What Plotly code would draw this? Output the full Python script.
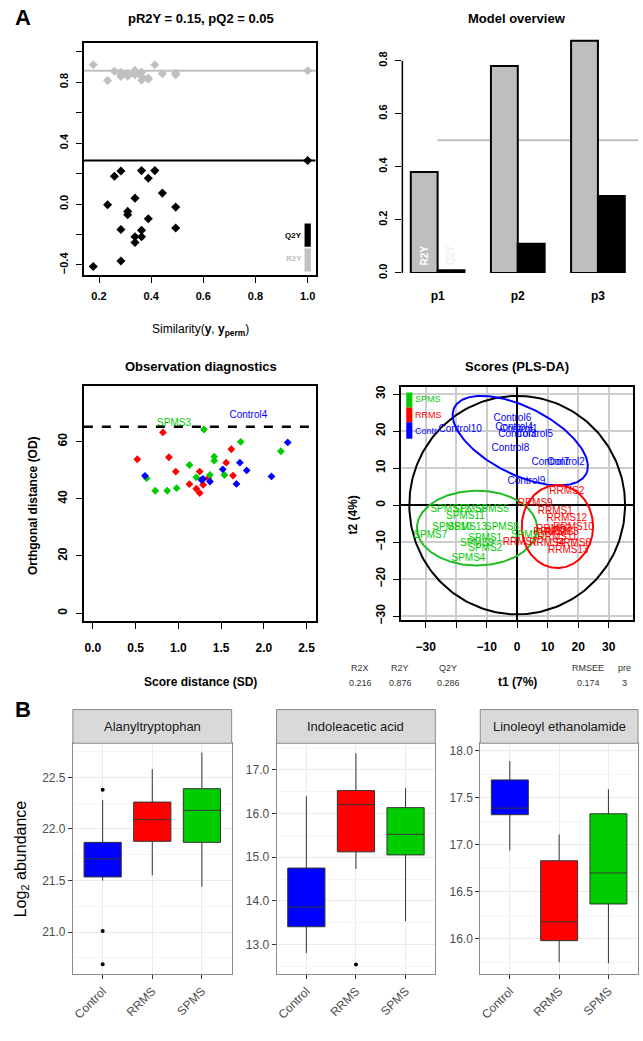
import numpy as np
import plotly.graph_objects as go

W, H = 643, 1041
def fx(p): return p / W
def fy(p): return 1 - p / H

# ---------------- DATA ----------------
# Panel A1: permutation test
perm_similarity = [0.178, 0.233, 0.259, 0.284, 0.284, 0.284, 0.310, 0.310, 0.338, 0.338, 0.338,
                   0.363, 0.363, 0.363, 0.389, 0.389, 0.414, 0.443, 0.494, 0.494, 1.0]
perm_r2y = [0.915, 0.811, 0.872, 0.865, 0.839, 0.850, 0.857, 0.840, 0.861, 0.878, 0.850,
            0.865, 0.813, 0.840, 0.828, 0.820, 0.915, 0.857, 0.861, 0.850, 0.876]
perm_q2y = [-0.410, -0.004, 0.183, 0.217, -0.167, -0.374, -0.048, -0.070, 0.039, -0.215, -0.252,
            0.220, -0.172, -0.215, 0.170, -0.096, 0.220, 0.072, -0.020, -0.157, 0.286]
model_r2y = 0.876
model_q2y = 0.286

# Panel A2: model overview
components = ["p1", "p2", "p3"]
overview_r2y = [0.38, 0.78, 0.875]
overview_q2y = [0.01, 0.11, 0.29]

# Panel A3: observation diagnostics
rrms_sd = [0.52, 0.82, 0.89, 0.97, 1.13, 1.21, 1.25, 1.25, 1.29, 1.35, 1.56, 1.62, 1.64]
rrms_od = [53.8, 63.2, 54.5, 49.5, 45.1, 43.5, 49.5, 42.0, 44.9, 47.2, 52.6, 57.3, 48.1]
spms_sd = [0.63, 0.73, 0.87, 0.98, 1.13, 1.21, 1.30, 1.37, 1.42, 1.42, 1.54, 1.73, 2.20]
spms_od = [47.2, 42.8, 42.8, 43.7, 51.8, 47.5, 64.2, 48.3, 54.7, 53.3, 48.3, 59.9, 56.6]
ctrl_sd = [0.61, 1.27, 1.29, 1.37, 1.52, 1.68, 1.72, 1.80, 2.09, 2.28]
ctrl_od = [48.0, 46.6, 46.9, 46.0, 50.3, 45.2, 52.6, 49.9, 47.8, 59.7]
od_threshold = 65.2
diag_labels = ["SPMS3", "Control4"]
diag_label_sd = [0.95, 1.82]
diag_label_od = [66.2, 69.1]

# Panel A4: PLS-DA scores
ctrl_names = ["Control%d" % i for i in range(1, 11)]
ctrl_t1 = [0.5, 16.0, 0.0, -1.0, 5.6, -1.6, 10.9, -2.2, 3.0, -18.7]
ctrl_t2 = [20.4, 11.4, 19.0, 21.0, 19.0, 23.5, 11.4, 15.4, 6.4, 20.3]
spms_names = ["SPMS%d" % i for i in range(1, 14)]
spms_t1 = [-10.5, -10.5, 3.5, -16.0, -8.3, -15.4, -28.5, -5.0, -13.2, -21.4, -17.0, -22.0, -16.4]
spms_t2 = [-8.9, -11.8, -8.2, -14.3, -1.3, -1.1, -8.2, -6.1, -10.3, -6.1, -3.2, -1.1, -6.1]
rrms_names = ["RRMS%d" % i for i in range(1, 14)]
rrms_t1 = [12.5, 16.3, 12.0, 9.7, 14.5, 18.5, 1.0, 11.0, 5.9, 18.5, 13.2, 16.3, 16.8]
rrms_t2 = [-1.8, 3.6, -6.5, -10.3, -7.5, -10.3, -10.1, -7.5, 0.3, -6.1, -8.7, -3.6, -12.2]
# ellipses: center, semi-axis vector a, semi-axis vector b (data units)
ell_t2 = [(0.0, 0.0), (35.4, 0.0), (0.0, 29.5)]
ell_ctrl = [(1.0, 17.4), (21.6, -9.0), (-5.05, -8.1)]
ell_spms = [(-13.2, -6.2), (19.7, 0.0), (0.0, 10.1)]
ell_rrms = [(13.2, -5.8), (11.7, 0.0), (0.0, 11.2)]
stat_names = ["R2X", "R2Y", "Q2Y", "RMSEE", "pre"]
stat_values = ["0.216", "0.876", "0.286", "0.174", "3"]

# Panel B: boxplots
groups = ["Control", "RRMS", "SPMS"]
metabolites = ["Alanyltryptophan", "Indoleacetic acid", "Linoleoyl ethanolamide"]
box_q1 = [[21.535, 21.88, 21.87], [13.41, 15.12, 15.05], [17.32, 15.98, 16.37]]
box_med = [[21.71, 22.09, 22.18], [13.86, 16.20, 15.52], [17.39, 16.18, 16.70]]
box_q3 = [[21.87, 22.26, 22.39], [14.75, 16.52, 16.13], [17.69, 16.83, 17.33]]
box_lo = [[21.50, 21.55, 21.44], [12.81, 14.73, 13.54], [16.94, 15.75, 15.74]]
box_hi = [[22.28, 22.58, 22.74], [16.39, 17.37, 16.58], [17.89, 17.11, 17.59]]
out_group = [["Control", "Control", "Control"], ["RRMS"], []]
out_value = [[22.38, 21.01, 20.69], [12.55], []]

group_colors = {"Control": "#0000FF", "RRMS": "#FF0000", "SPMS": "#00CD00"}
RED, GREEN, BLUE = "#FF0000", "#00CC00", "#0000FF"

# ---------------- FIGURE ----------------
fig = go.Figure()
FONT = "Liberation Sans"

# A1 permutation
fig.add_trace(go.Scatter(x=perm_similarity, y=perm_r2y, mode="markers",
                         marker=dict(symbol="diamond", size=7, color="#C0C0C0"),
                         xaxis="x", yaxis="y", showlegend=False))
fig.add_trace(go.Scatter(x=perm_similarity, y=perm_q2y, mode="markers",
                         marker=dict(symbol="diamond", size=7, color="black"),
                         xaxis="x", yaxis="y", showlegend=False))

# A2 overview
fig.add_trace(go.Bar(x=components, y=overview_r2y, marker=dict(color="#BEBEBE", line=dict(color="black", width=2)),
                     xaxis="x2", yaxis="y2", showlegend=False))
fig.add_trace(go.Bar(x=components, y=overview_q2y, marker=dict(color="black", line=dict(color="black", width=2)),
                     xaxis="x2", yaxis="y2", showlegend=False))

# A3 diagnostics
for sd, od, col in [(rrms_sd, rrms_od, RED), (spms_sd, spms_od, GREEN), (ctrl_sd, ctrl_od, BLUE)]:
    fig.add_trace(go.Scatter(x=sd, y=od, mode="markers", marker=dict(symbol="diamond", size=6, color=col),
                             xaxis="x3", yaxis="y3", showlegend=False))
fig.add_trace(go.Scatter(x=diag_label_sd, y=diag_label_od, mode="text", text=diag_labels,
                         textfont=dict(family=FONT, size=10, color=[GREEN, BLUE]),
                         xaxis="x3", yaxis="y3", showlegend=False))

# A4 scores
t = np.linspace(0, 2 * np.pi, 241)
for (c, a, b), col in [(ell_t2, "black"), (ell_ctrl, BLUE), (ell_spms, "#22BB22"), (ell_rrms, RED)]:
    ex = c[0] + a[0] * np.cos(t) + b[0] * np.sin(t)
    ey = c[1] + a[1] * np.cos(t) + b[1] * np.sin(t)
    fig.add_trace(go.Scatter(x=ex, y=ey, mode="lines", line=dict(color=col, width=2),
                             xaxis="x4", yaxis="y4", showlegend=False, hoverinfo="skip"))
for names, xs, ys, col in [(ctrl_names, ctrl_t1, ctrl_t2, BLUE), (spms_names, spms_t1, spms_t2, GREEN),
                           (rrms_names, rrms_t1, rrms_t2, RED)]:
    fig.add_trace(go.Scatter(x=xs, y=ys, mode="text", text=names,
                             textfont=dict(family=FONT, size=10, color=col),
                             xaxis="x4", yaxis="y4", showlegend=False))

# B boxplots
for k in range(3):
    ax = str(5 + k)
    for j, g in enumerate(groups):
        fig.add_trace(go.Box(x=[g], q1=[box_q1[k][j]], median=[box_med[k][j]], q3=[box_q3[k][j]],
                             lowerfence=[box_lo[k][j]], upperfence=[box_hi[k][j]],
                             fillcolor=group_colors[g], line=dict(color="#333333", width=1),
                             width=0.75, whiskerwidth=0, boxpoints=False,
                             xaxis="x" + ax, yaxis="y" + ax, showlegend=False))
    if out_group[k]:
        fig.add_trace(go.Scatter(x=out_group[k], y=out_value[k], mode="markers",
                                 marker=dict(color="black", size=4),
                                 xaxis="x" + ax, yaxis="y" + ax, showlegend=False))

# ---------------- AXES ----------------
rfont = dict(family=FONT, size=11, color="black", weight="bold")
def raxis(**kw):
    d = dict(ticks="outside", ticklen=6, tickcolor="black", tickwidth=1, showgrid=False, zeroline=False,
             tickfont=rfont, showline=True, mirror=True, linecolor="black", linewidth=1.8,
             ticklabelstandoff=4)
    d.update(kw)
    return d

def m(v):
    return ("%s" % v).replace("-", "\u2212")

lay = dict(
    width=W, height=H, margin=dict(l=0, r=0, t=0, b=0), autosize=False,
    paper_bgcolor="white", plot_bgcolor="white", barmode="group", bargap=0.33, bargroupgap=0,
    boxmode="overlay",
    xaxis=raxis(domain=[fx(83), fx(315)], range=[0.142, 1.03], tickvals=[0.2, 0.4, 0.6, 0.8, 1.0],
                ticktext=["0.2", "0.4", "0.6", "0.8", "1.0"], anchor="y"),
    yaxis=raxis(domain=[fy(275), fy(41)], range=[-0.465, 1.06], tickangle=-90,
                tickvals=[-0.4, 0.0, 0.4, 0.8],
                ticktext=[m("-0.4"), "0.0", "0.4", "0.8"], anchor="x",
                minor=dict(tickvals=[-0.2, 0.2, 0.6, 1.0], ticks="outside", ticklen=6, tickcolor="black",
                           showgrid=False)),
    xaxis2=dict(domain=[fx(402), fx(638)], range=[-0.44, 2.5], type="category", showline=False, ticks="",
                showgrid=False, zeroline=False, tickfont=dict(family=FONT, size=12, color="black", weight="bold"),
                ticklabelstandoff=14, anchor="y2"),
    yaxis2=dict(domain=[fy(273), fy(27)], range=[0, 0.92], tickvals=[0, 0.2, 0.4, 0.6, 0.8],
                ticktext=["0.0", "0.2", "0.4", "0.6", "0.8"], tickangle=-90, ticks="outside", ticklen=6,
                tickcolor="black", showline=False, showgrid=False, zeroline=False, tickfont=rfont,
                ticklabelstandoff=4, anchor="x2"),
    xaxis3=raxis(domain=[fx(83), fx(315)], range=[-0.105, 2.605], tickvals=[0, 0.5, 1.0, 1.5, 2.0, 2.5],
                 ticktext=["0.0", "0.5", "1.0", "1.5", "2.0", "2.5"], anchor="y3", ticklabelstandoff=8,
                 tickfont=dict(family=FONT, size=12, color="black", weight="bold")),
    yaxis3=raxis(domain=[fy(624), fy(387)], range=[-2.8, 79.4], tickvals=[0, 20, 40, 60], tickangle=-90,
                 anchor="x3", tickfont=dict(family=FONT, size=12, color="black", weight="bold")),
    xaxis4=raxis(domain=[fx(401), fx(633)], range=[-38, 38], tickvals=[-30, -10, 0, 10, 20, 30],
                 ticktext=[m("-30"), m("-10"), "0", "10", "20", "30"], anchor="y4",
                 minor=dict(tickvals=[-20], ticks="outside", ticklen=6, tickcolor="black",
                            showgrid=True, gridcolor="#CCCCCC", gridwidth=2),
                 showgrid=True, gridcolor="#CCCCCC", gridwidth=2, zeroline=True, zerolinecolor="black",
                 zerolinewidth=2, ticklabelstandoff=8, tickfont=dict(family=FONT, size=12, color="black", weight="bold")),
    yaxis4=raxis(domain=[fy(623), fy(388)], range=[-31.1, 31.9], tickvals=[-30, -20, -10, 0, 10, 20, 30],
                 ticktext=[m("-30"), m("-20"), m("-10"), "0", "10", "20", "30"], tickangle=-90, anchor="x4",
                 showgrid=True, gridcolor="#CCCCCC", gridwidth=2, zeroline=True, zerolinecolor="black",
                 zerolinewidth=2, tickfont=dict(family=FONT, size=12, color="black", weight="bold")),
)

bdom_x = [(72, 231), (276, 435), (480, 638)]
bdom_range = [(20.59, 22.83), (12.32, 17.6), (15.62, 18.08)]
bdom_ticks = [[21.0, 21.5, 22.0, 22.5], [13.0, 14.0, 15.0, 16.0, 17.0], [16.0, 16.5, 17.0, 17.5, 18.0]]
bdom_minor = [0.25, 0.5, 0.25]
for k in range(3):
    ax = str(5 + k)
    lay["xaxis" + ax] = dict(domain=[fx(bdom_x[k][0]), fx(bdom_x[k][1])], type="category",
                             categoryorder="array", categoryarray=groups, range=[-0.6, 2.6],
                             showgrid=True, gridcolor="#EBEBEB", ticks="outside", ticklen=4, tickcolor="#333333",
                             tickangle=-45, tickfont=dict(family=FONT, size=12, color="#4D4D4D"),
                             showline=True, mirror=True, linecolor="#8C8C8C", linewidth=1, zeroline=False,
                             anchor="y" + ax)
    lay["yaxis" + ax] = dict(domain=[fy(980), fy(747)], range=list(bdom_range[k]), tickvals=bdom_ticks[k],
                             tickformat=".1f", showgrid=True, gridcolor="#EBEBEB", ticks="outside", ticklen=4,
                             tickcolor="#333333", tickfont=dict(family=FONT, size=12, color="#4D4D4D"),
                             minor=dict(dtick=bdom_minor[k], showgrid=True, gridcolor="#F5F5F5", ticks=""),
                             showline=True, mirror=True, linecolor="#8C8C8C", linewidth=1, zeroline=False,
                             anchor="x" + ax)

fig.update_layout(**lay)

# ---------------- SHAPES ----------------
shapes = []
# A1 reference lines
shapes.append(dict(type="line", xref="x domain", x0=0, x1=1.01, yref="y", y0=model_r2y, y1=model_r2y,
                   line=dict(color="#C0C0C0", width=2), layer="below"))
shapes.append(dict(type="line", xref="x domain", x0=0, x1=1.0, yref="y", y0=model_q2y, y1=model_q2y,
                   line=dict(color="black", width=2)))
# A1 legend bars
shapes.append(dict(type="rect", xref="x", yref="y", x0=0.988, x1=1.012, y0=-0.28, y1=-0.128,
                   fillcolor="black", line=dict(width=0)))
shapes.append(dict(type="rect", xref="x", yref="y", x0=0.988, x1=1.012, y0=-0.443, y1=-0.291,
                   fillcolor="#C0C0C0", line=dict(width=0)))
# A2 axis line and threshold
shapes.append(dict(type="line", xref="x2 domain", x0=0, x1=0, yref="y2", y0=0, y1=0.8,
                   line=dict(color="black", width=1.5)))
shapes.append(dict(type="line", xref="x2 domain", x0=0.148, x1=1.0, yref="y2", y0=0.5, y1=0.5,
                   line=dict(color="#C0C0C0", width=2), layer="below"))
# A3 threshold
shapes.append(dict(type="line", xref="x3 domain", x0=0, x1=1, yref="y3", y0=od_threshold, y1=od_threshold,
                   line=dict(color="black", width=2.5, dash="dash")))
# A4 legend blocks
for (y0, y1, col) in [(26.4, 30.4, GREEN), (22.4, 26.4, RED), (17.9, 22.4, BLUE)]:
    shapes.append(dict(type="rect", xref="x4", yref="y4", x0=-36.4, x1=-34.4, y0=y0, y1=y1,
                       fillcolor=col, line=dict(width=0)))
# B strips
for (a, b) in bdom_x:
    shapes.append(dict(type="rect", xref="paper", yref="paper", x0=fx(a), x1=fx(b), y0=fy(747), y1=fy(713),
                       fillcolor="#D9D9D9", line=dict(color="#8C8C8C", width=1)))
fig.update_layout(shapes=shapes)

# ---------------- ANNOTATIONS ----------------
def ann(text, x, y, size=12, color="black", angle=0, xanchor="center", yanchor="middle", bold=False):
    return dict(text=("<b>%s</b>" % text) if bold else text, x=fx(x), y=fy(y), xref="paper", yref="paper",
                showarrow=False, textangle=angle, xanchor=xanchor, yanchor=yanchor,
                font=dict(family=FONT, size=size, color=color))

anns = [
    ann("A", 22, 16, size=22, bold=True),
    ann("B", 22, 713, size=22, bold=True),
    ann("pR2Y = 0.15, pQ2 = 0.05", 200, 17, size=13, bold=True),
    ann("Model overview", 517, 17, size=13, bold=True),
    ann("Observation diagnostics", 200, 367, size=13, bold=True),
    ann("Scores (PLS-DA)", 517, 367, size=13, bold=True),
    ann("Similarity(<b>y</b>, <b>y</b><sub><b>perm</b></sub>)", 200, 331, size=12),
    ann("Orthgonal distance (OD)", 32, 507, size=12, angle=-90, bold=True),
    ann("Score distance (SD)", 200, 685, size=12, bold=True),
    ann("t2 (4%)", 353, 517, size=12, angle=-90, bold=True),
    ann("t1 (7%)", 517, 685, size=12, bold=True),
    ann("Q2Y", 303, 235, size=8, xanchor="right", bold=True),
    ann("R2Y", 303, 258, size=8, color="#C0C0C0", xanchor="right", bold=True),
    ann("R2Y", 424, 255, size=10, color="white", angle=-90, bold=True),
    ann("Q2Y", 450, 255, size=10, color="#F0F0F0", angle=-90, bold=True),
    ann("SPMS", 413, 400, size=9, color=GREEN, xanchor="left"),
    ann("RRMS", 413, 416, size=9, color=RED, xanchor="left"),
    ann("Contr", 413, 432, size=9, color=BLUE, xanchor="left"),
    ann("Log<sub>2</sub> abundance", 20, 863, size=16, angle=-90, color="black"),
]
stat_x = [360, 400, 448, 588, 624]
for nm, val, xx in zip(stat_names, stat_values, stat_x):
    anns.append(ann(nm, xx, 671, size=9, color="#333333"))
    anns.append(ann(val, xx, 686, size=9, color="#333333"))
for (a, b), name in zip(bdom_x, metabolites):
    anns.append(ann(name, (a + b) / 2, 730, size=13, color="#1A1A1A"))
fig.update_layout(annotations=anns)

fig.write_html("out.html", config={"displayModeBar": False},
               post_script="document.body.style.margin='0';")
